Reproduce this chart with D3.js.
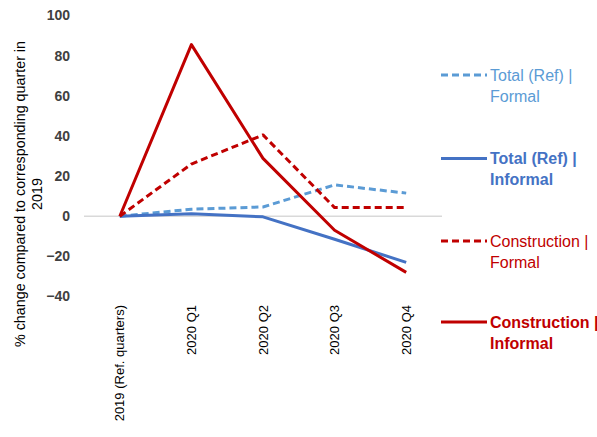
<!DOCTYPE html>
<html><head><meta charset="utf-8">
<script src="https://cdn.jsdelivr.net/npm/d3@7"></script>
<style>body{margin:0;background:#fff}svg{display:block}text{font-family:"Liberation Sans",Arial,sans-serif}</style>
</head><body>
<script>
const categories = ["2019 (Ref. quarters)", "2020 Q1", "2020 Q2", "2020 Q3", "2020 Q4"];
const totalFormal = [0, 3.5, 4.6, 15.6, 11.5];
const totalInformal = [0, 1.2, -0.3, -11.5, -23];
const constructionFormal = [0, 26, 40.5, 4.3, 4.3];
const constructionInformal = [0, 85.5, 28.8, -7, -28];
const yTicks = [100, 80, 60, 40, 20, 0, -20, -40];
const seriesNames = ["Total (Ref) | Formal", "Total (Ref) | Informal", "Construction | Formal", "Construction | Informal"];

const series = [
  {name: seriesNames[0], values: totalFormal, color: "#5B9BD5", dash: "7,4", bold: false},
  {name: seriesNames[1], values: totalInformal, color: "#4472C4", dash: null, bold: true},
  {name: seriesNames[2], values: constructionFormal, color: "#C00000", dash: "7,4", bold: false},
  {name: seriesNames[3], values: constructionInformal, color: "#C00000", dash: null, bold: true}
];

const W = 597, H = 437;
const FONT = "'Liberation Sans',Arial,sans-serif";
const svg = d3.select("body").append("svg").attr("width", W).attr("height", H);

const x = d3.scaleBand().domain(categories).range([84, 442]);
const y = d3.scaleLinear().domain([-40, 100]).range([296.5, 15.5]);

// zero gridline
svg.append("line").attr("x1", 84).attr("x2", 442).attr("y1", y(0)).attr("y2", y(0))
  .attr("stroke", "#d9d9d9").attr("stroke-width", 1.5);

// y tick labels
const yAxis = svg.append("g").attr("transform", "translate(70,0)")
  .call(d3.axisLeft(y).tickValues(yTicks).tickSize(0).tickPadding(0));
yAxis.select(".domain").remove();
yAxis.selectAll("text").attr("font-size", 14).attr("font-weight", "bold").attr("fill", "#404040")
  .style("font-family", FONT);

// x labels
const xAxis = svg.append("g").attr("transform", "translate(0,305)")
  .call(d3.axisBottom(x).tickSize(0).tickPadding(0));
xAxis.select(".domain").remove();
xAxis.selectAll("text")
  .attr("transform", "rotate(-90)")
  .attr("x", 0).attr("y", 0).attr("dy", "0.35em")
  .attr("text-anchor", "end")
  .attr("font-size", 13).attr("fill", "#000")
  .style("font-family", FONT);

// y title
const yt = svg.append("text").attr("transform", "translate(25,194) rotate(-90)")
  .attr("text-anchor", "middle").attr("font-size", 14.3).attr("fill", "#000");
yt.append("tspan").attr("x", 0).attr("dy", 0).text("% change compared to corresponding quarter in");
yt.append("tspan").attr("x", 0).attr("dy", "1.2em").text("2019");

const line = d3.line().x((d, i) => x(categories[i]) + x.bandwidth() / 2).y(d => y(d));

series.forEach(s => {
  svg.append("path").datum(s.values).attr("d", line)
    .attr("fill", "none").attr("stroke", s.color).attr("stroke-width", 3)
    .attr("stroke-dasharray", s.dash).attr("stroke-linejoin", "round");
});

// legend
const legendY = [75, 158.5, 241, 322];
series.forEach((s, i) => {
  const g = svg.append("g").attr("transform", `translate(0,${legendY[i]})`);
  g.append("line").attr("x1", 441).attr("x2", 487).attr("y1", 0).attr("y2", 0)
    .attr("stroke", s.color).attr("stroke-width", 3).attr("stroke-dasharray", s.dash);
  const parts = s.name.split(" | ");
  const t = g.append("text").attr("font-size", 16).attr("fill", s.color)
    .attr("font-weight", s.bold ? "bold" : "normal");
  t.append("tspan").attr("x", 490).attr("dy", "0.35em").text(parts[0] + " |");
  t.append("tspan").attr("x", 490).attr("dy", "1.33em").text(parts[1]);
});
</script>
</body></html>
